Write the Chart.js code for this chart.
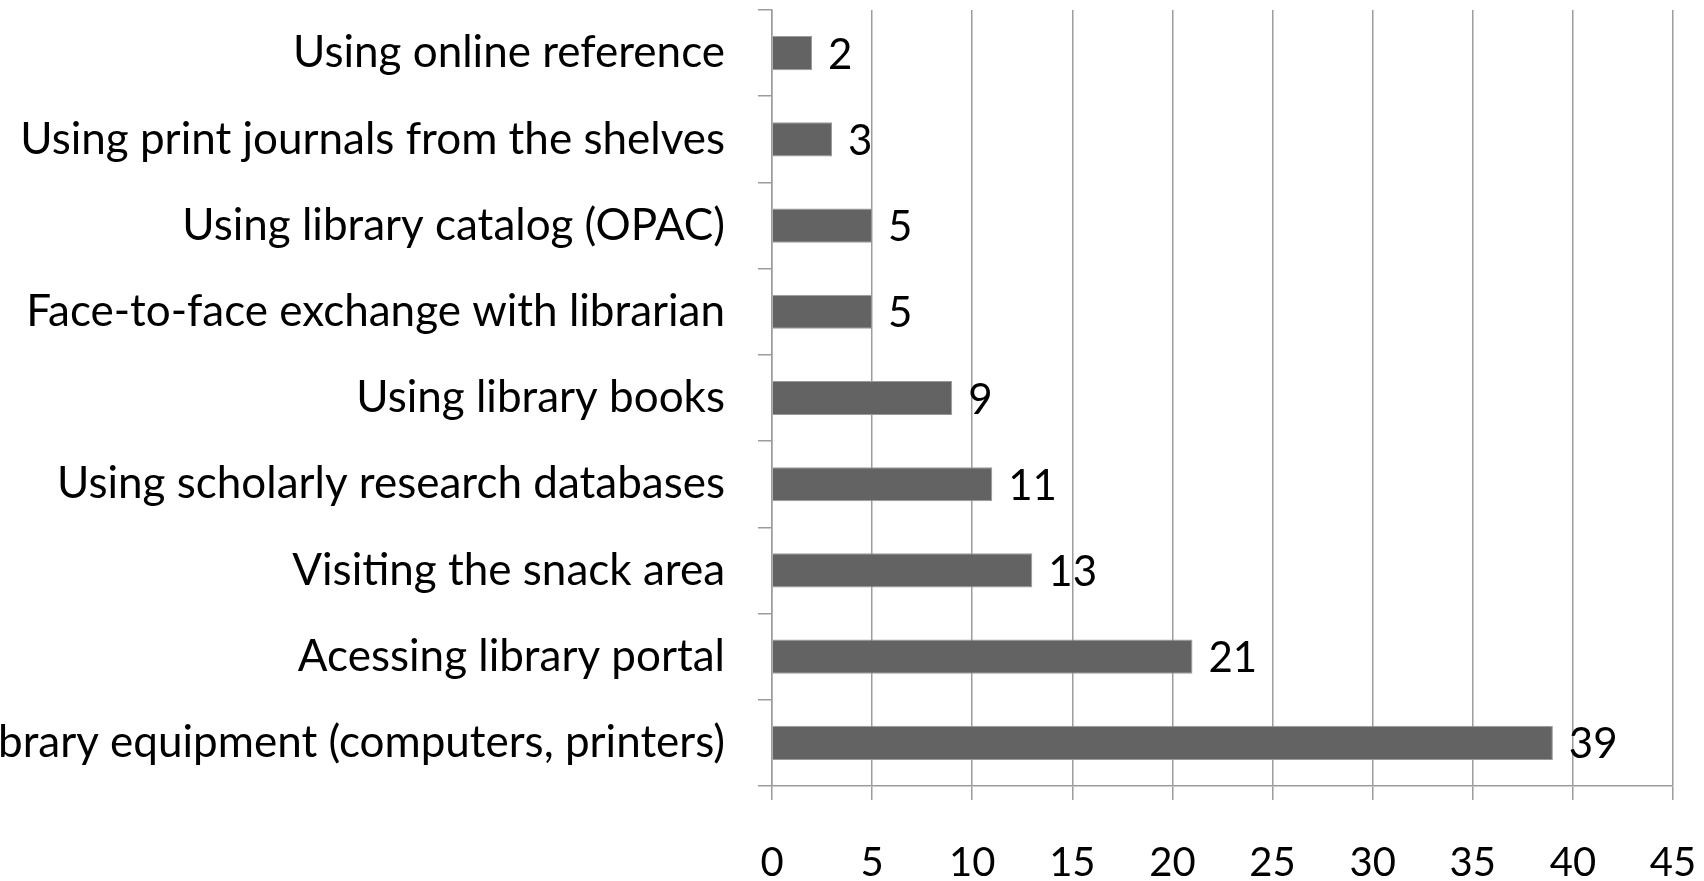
<!DOCTYPE html>
<html>
<head>
<meta charset="utf-8">
<script src="https://cdn.jsdelivr.net/npm/chart.js@4/dist/chart.umd.min.js"></script>
<style>
  html, body { margin: 0; padding: 0; background: #fff; }
  #wrap { width: 1704px; height: 881px; }
</style>
</head>
<body>
<div id="wrap"><canvas id="usageChart" width="1704" height="881"></canvas></div>
<script>
// chart data
const categories = [
    "Using online reference",
    "Using print journals from the shelves",
    "Using library catalog (OPAC)",
    "Face-to-face exchange with librarian",
    "Using library books",
    "Using scholarly research databases",
    "Visiting the snack area",
    "Acessing library portal",
    "Using library equipment (computers, printers)"
];
const counts = [2, 3, 5, 5, 9, 11, 13, 21, 39];
const xTicks = [0, 5, 10, 15, 20, 25, 30, 35, 40, 45];

const FONT = "Lato, 'Open Sans', sans-serif";

// value labels to the right of each bar
const valueLabels = {
    id: "valueLabels",
    afterDatasetsDraw(chart) {
        const ctx = chart.ctx;
        const meta = chart.getDatasetMeta(0);
        ctx.save();
        ctx.font = "42px " + FONT;
        ctx.fillStyle = "#000";
        ctx.textAlign = "left";
        ctx.textBaseline = "middle";
        meta.data.forEach((bar, i) => {
            ctx.fillText(String(counts[i]), bar.x + 16, bar.y + 2);
        });
        ctx.restore();
    }
};

new Chart(document.getElementById("usageChart"), {
    type: "bar",
    data: {
        labels: categories,
        datasets: [{
            data: counts,
            backgroundColor: "#636363",
            borderColor: "#9a9a9a",
            borderWidth: 1,
            barPercentage: 0.6,
            categoryPercentage: 0.66
        }]
    },
    options: {
        indexAxis: "y",
        responsive: false,
        animation: false,
        layout: { padding: { top: 10, right: 31, left: 0, bottom: 0 } },
        plugins: {
            legend: { display: false },
            tooltip: { enabled: false }
        },
        scales: {
            x: {
                min: xTicks[0],
                max: xTicks[xTicks.length - 1],
                afterBuildTicks: scale => {
                    scale.ticks = xTicks.map(v => ({ value: v }));
                },
                afterFit: scale => {
                    scale.height = 95;
                    scale.paddingLeft = 0;
                    scale.paddingRight = 0;
                },
                grid: {
                    color: "#9c9c9c",
                    lineWidth: 1.5,
                    tickLength: 14
                },
                border: { color: "#9c9c9c", width: 1.5 },
                ticks: {
                    color: "#000",
                    font: { family: FONT, size: 40 },
                    padding: 39,
                    maxRotation: 0
                }
            },
            y: {
                afterFit: scale => {
                    scale.width = 772;
                    scale.paddingTop = 0;
                    scale.paddingBottom = 0;
                },
                grid: {
                    drawOnChartArea: false,
                    color: "#9c9c9c",
                    lineWidth: 1.5,
                    tickLength: 14,
                    offset: true
                },
                border: { color: "#9c9c9c", width: 1.5 },
                ticks: {
                    color: "#000",
                    font: { family: FONT, size: 44 },
                    padding: 33,
                    autoSkip: false
                }
            }
        }
    },
    plugins: [valueLabels]
});
</script>
</body>
</html>
